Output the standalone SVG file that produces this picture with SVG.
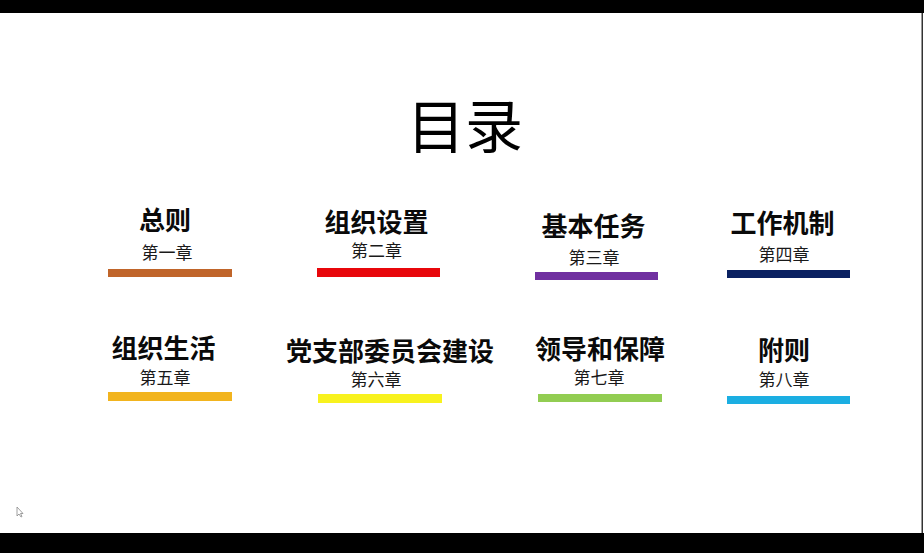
<svg xmlns="http://www.w3.org/2000/svg" width="924" height="553" viewBox="0 0 924 553">
<style>
.t{font-family:"Noto Sans CJK SC","Noto Sans",sans-serif;font-weight:bold;font-size:26px;fill:#0a0a0a;text-anchor:middle}
.s{font-family:"Noto Sans CJK SC","Noto Sans",sans-serif;font-size:17px;fill:#1a1a1a;text-anchor:middle}
.h{font-family:"Noto Sans CJK SC","Noto Sans",sans-serif;font-size:58px;fill:#000;text-anchor:middle}
</style>
<rect x="0" y="0" width="924" height="553" fill="#ffffff"/>
<rect x="0" y="0" width="924" height="13" fill="#000"/>
<rect x="0" y="533" width="924" height="20" fill="#000"/>
<rect x="921.5" y="13" width="1.5" height="520" fill="#333"/>
<text id="title" class="h" x="465" y="148">目录</text>
<g id="ch1"><text class="t" x="165" y="230">总则</text><text class="s" x="167" y="259">第一章</text><rect x="108" y="269" width="124" height="8" fill="#C0652A"/></g>
<g id="ch2"><text class="t" x="376.5" y="232">组织设置</text><text class="s" x="376.5" y="257">第二章</text><rect x="317" y="268" width="123" height="9" fill="#E8070B"/></g>
<g id="ch3"><text class="t" x="593.5" y="236">基本任务</text><text class="s" x="594" y="264">第三章</text><rect x="535" y="272" width="123" height="8" fill="#7030A0"/></g>
<g id="ch4"><text class="t" x="782.5" y="233">工作机制</text><text class="s" x="784" y="261">第四章</text><rect x="727" y="270" width="123" height="8" fill="#0A2161"/></g>
<g id="ch5"><text class="t" x="163.5" y="358">组织生活</text><text class="s" x="165" y="384">第五章</text><rect x="108" y="392" width="124" height="9" fill="#F2B41E"/></g>
<g id="ch6"><text class="t" x="390" y="361">党支部委员会建设</text><text class="s" x="376" y="386">第六章</text><rect x="318" y="394" width="124" height="9" fill="#F8F21E"/></g>
<g id="ch7"><text class="t" x="600" y="359">领导和保障</text><text class="s" x="599" y="384">第七章</text><rect x="538" y="394" width="124" height="8" fill="#92CD52"/></g>
<g id="ch8"><text class="t" x="784" y="360">附则</text><text class="s" x="784" y="386">第八章</text><rect x="727" y="396" width="123" height="8" fill="#1BAEE2"/></g>
<g id="connectors"/>
<path d="M17 507 L17 516 L19 514 L21 517 L22 516.5 L20.5 513.5 L23 513.5 Z" fill="#fff" stroke="#888" stroke-width="0.8"/>
</svg>
